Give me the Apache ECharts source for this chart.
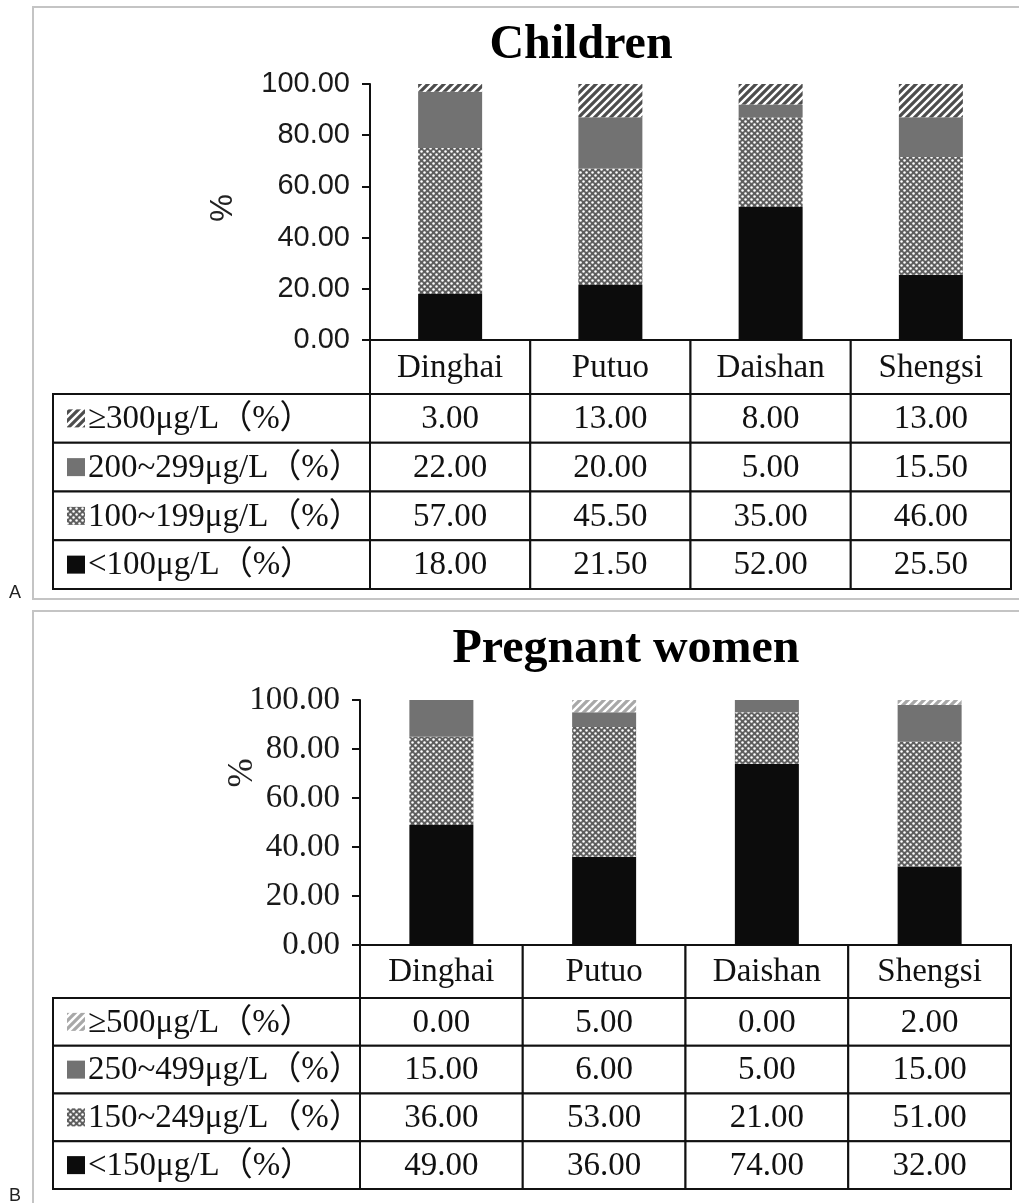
<!DOCTYPE html>
<html>
<head>
<meta charset="utf-8">
<script src="https://cdn.jsdelivr.net/npm/echarts@6/dist/echarts.min.js"></script>
<style>
  html, body { margin: 0; padding: 0; background: #fff; }
  #chart { width: 1019px; height: 1203px; }
</style>
</head>
<body>
<div id="chart"></div>
<script>
// districts shared by both panels
const districts = ['Dinghai', 'Putuo', 'Daishan', 'Shengsi']

// A: children, urinary iodine groups (top row of the table first)
const childLevels = ['≥300μg/L（%）', '200~299μg/L（%）', '100~199μg/L（%）', '<100μg/L（%）']
const childOver300 = [3, 13, 8, 13]
const child200to299 = [22, 20, 5, 15.5]
const child100to199 = [57, 45.5, 35, 46]
const childUnder100 = [18, 21.5, 52, 25.5]

// B: pregnant women
const womenLevels = ['≥500μg/L（%）', '250~499μg/L（%）', '150~249μg/L（%）', '<150μg/L（%）']
const womenOver500 = [0, 5, 0, 2]
const women250to499 = [15, 6, 5, 15]
const women150to249 = [36, 53, 21, 51]
const womenUnder150 = [49, 36, 74, 32]

const SERIF = '"Liberation Serif", "Times New Roman", "Noto Sans CJK SC", serif'
const SANS = '"Liberation Sans", Arial, sans-serif'

// --- fill patterns ---
const makeStripes = (lineColor) => {
  const s = 8
  const c = document.createElement('canvas')
  c.width = s; c.height = s
  const ctx = c.getContext('2d')
  ctx.fillStyle = '#fff'
  ctx.fillRect(0, 0, s, s)
  ctx.strokeStyle = lineColor
  ctx.lineWidth = 3.2
  ctx.beginPath()
  ctx.moveTo(0, s); ctx.lineTo(s, 0)
  ctx.moveTo(-s / 2, s / 2); ctx.lineTo(s / 2, -s / 2)
  ctx.moveTo(s / 2, s * 1.5); ctx.lineTo(s * 1.5, s / 2)
  ctx.stroke()
  return c
}

const makeDots = () => {
  const s = 6
  const c = document.createElement('canvas')
  c.width = s; c.height = s
  const ctx = c.getContext('2d')
  ctx.fillStyle = '#5e5e5e'
  ctx.fillRect(0, 0, s, s)
  ctx.fillStyle = '#fff'
  ;[[1.5, 1.5], [4.5, 4.5]].forEach(([x, y]) => {
    ctx.beginPath()
    ctx.arc(x, y, 1.25, 0, Math.PI * 2)
    ctx.fill()
  })
  return c
}

const pat = (canvas) => ({ image: canvas, repeat: 'repeat' })

const darkStripes = pat(makeStripes('#4d4d4d'))
const lightStripes = pat(makeStripes('#a8a8a8'))
const dots = pat(makeDots())
const midGray = '#727272'
const black = '#0c0c0c'

// panel layout (pixels)
const panels = [
  {
    title: 'Children', titleX: 581, titleY: 46,
    levels: childLevels,
    rows: [childOver300, child200to299, child100to199, childUnder100],
    fills: [darkStripes, midGray, dots, black],
    plotLeft: 370, plotWidth: 641, plotTop: 84, plotHeight: 256,
    headTop: 340, headHeight: 54, bodyTop: 394, bodyHeight: 195,
    legendLeft: 53,
    tickFont: { family: SANS, size: 29 }, percentAt: [223, 208]
  },
  {
    title: 'Pregnant women', titleX: 626, titleY: 650,
    levels: womenLevels,
    rows: [womenOver500, women250to499, women150to249, womenUnder150],
    fills: [lightStripes, midGray, dots, black],
    plotLeft: 360, plotWidth: 651, plotTop: 700, plotHeight: 245,
    headTop: 945, headHeight: 53, bodyTop: 998, bodyHeight: 191,
    legendLeft: 53,
    tickFont: { family: SERIF, size: 33 }, percentAt: [243, 773]
  }
]

const grid = []
const xAxis = []
const yAxis = []
const series = []
const graphic = []

const cellFont = '33px ' + SERIF

const cellRect = (api) => {
  const p = api.coord([api.value(0), api.value(1)])
  const s = api.size([1, 1])
  return { x: p[0] - s[0] / 2, y: p[1] - s[1] / 2, width: s[0], height: s[1], cx: p[0], cy: p[1] }
}

const borderRect = (r) => ({
  type: 'rect',
  shape: { x: r.x, y: r.y, width: r.width, height: r.height },
  style: { fill: '#fff', stroke: '#111', lineWidth: 2 }
})

const centerText = (text, r) => ({
  type: 'text',
  style: {
    text, x: r.cx, y: r.cy + 1, font: cellFont, fill: '#111',
    align: 'center', verticalAlign: 'middle', textAlign: 'center', textVerticalAlign: 'middle'
  }
})

panels.forEach((pn) => {
  const g0 = grid.length
  const bodyRows = pn.levels.map((_, i) => i)

  // bars
  grid.push({ left: pn.plotLeft, top: pn.plotTop, width: pn.plotWidth, height: pn.plotHeight })
  // header row
  grid.push({ left: pn.plotLeft, top: pn.headTop, width: pn.plotWidth, height: pn.headHeight })
  // value rows
  grid.push({ left: pn.plotLeft, top: pn.bodyTop, width: pn.plotWidth, height: pn.bodyHeight })
  // legend column
  grid.push({ left: pn.legendLeft, top: pn.bodyTop, width: pn.plotLeft - pn.legendLeft, height: pn.bodyHeight })

  xAxis.push({
    type: 'category', gridIndex: g0, data: districts,
    axisLine: { lineStyle: { color: '#111', width: 2 } },
    axisTick: { show: false }, axisLabel: { show: false }
  })
  yAxis.push({
    type: 'value', gridIndex: g0, min: 0, max: 100, interval: 20,
    axisLine: { show: true, lineStyle: { color: '#111', width: 2 } },
    axisTick: { show: true, length: 8, lineStyle: { color: '#111', width: 2 } },
    splitLine: { show: false },
    axisLabel: {
      formatter: (v) => v.toFixed(2), margin: 20,
      fontFamily: pn.tickFont.family, fontSize: pn.tickFont.size, color: '#1a1a1a'
    }
  })

  xAxis.push({ type: 'category', gridIndex: g0 + 1, data: districts, show: false })
  yAxis.push({ type: 'category', gridIndex: g0 + 1, data: ['head'], show: false })
  xAxis.push({ type: 'category', gridIndex: g0 + 2, data: districts, show: false })
  yAxis.push({ type: 'category', gridIndex: g0 + 2, data: bodyRows, inverse: true, show: false })
  xAxis.push({ type: 'category', gridIndex: g0 + 3, data: ['label'], show: false })
  yAxis.push({ type: 'category', gridIndex: g0 + 3, data: bodyRows, inverse: true, show: false })

  // stacked bars, bottom level first
  for (let r = pn.rows.length - 1; r >= 0; r--) {
    series.push({
      type: 'bar', name: pn.levels[r], stack: pn.title,
      xAxisIndex: g0, yAxisIndex: g0,
      barWidth: 64,
      data: pn.rows[r],
      itemStyle: { color: pn.fills[r] },
      emphasis: { disabled: true }
    })
  }

  // header cells
  series.push({
    type: 'custom', xAxisIndex: g0 + 1, yAxisIndex: g0 + 1,
    data: districts.map((_, c) => [c, 0]),
    renderItem: (params, api) => {
      const r = cellRect(api)
      return { type: 'group', children: [borderRect(r), centerText(districts[api.value(0)], r)] }
    }
  })

  // value cells
  const cells = []
  pn.rows.forEach((vals, r) => vals.forEach((v, c) => cells.push([c, r, v])))
  series.push({
    type: 'custom', xAxisIndex: g0 + 2, yAxisIndex: g0 + 2,
    data: cells,
    renderItem: (params, api) => {
      const r = cellRect(api)
      return { type: 'group', children: [borderRect(r), centerText(api.value(2).toFixed(2), r)] }
    }
  })

  // legend cells with swatches
  series.push({
    type: 'custom', xAxisIndex: g0 + 3, yAxisIndex: g0 + 3,
    data: bodyRows.map((r) => [0, r]),
    renderItem: (params, api) => {
      const r = cellRect(api)
      const row = api.value(1)
      return {
        type: 'group',
        children: [
          borderRect(r),
          {
            type: 'rect',
            shape: { x: r.x + 14, y: r.cy - 9, width: 18, height: 18 },
            style: { fill: pn.fills[row] }
          },
          {
            type: 'text',
            style: {
              text: pn.levels[row], x: r.x + 35, y: r.cy + 1, font: cellFont, fill: '#111',
              align: 'left', verticalAlign: 'middle', textAlign: 'left', textVerticalAlign: 'middle'
            }
          }
        ]
      }
    }
  })

  // title and the rotated "%" axis title
  graphic.push({
    type: 'text', x: pn.titleX, y: pn.titleY,
    style: {
      text: pn.title, font: 'bold 48px ' + SERIF, fill: '#000',
      align: 'center', verticalAlign: 'middle', textAlign: 'center', textVerticalAlign: 'middle'
    }
  }, {
    type: 'text', x: pn.percentAt[0], y: pn.percentAt[1], rotation: Math.PI / 2,
    style: {
      text: '%', font: (pn.tickFont.size + 2) + 'px ' + pn.tickFont.family, fill: '#222',
      align: 'center', verticalAlign: 'middle', textAlign: 'center', textVerticalAlign: 'middle'
    }
  })
})

// panel frames and A / B marks
graphic.push(
  { type: 'rect', shape: { x: 33, y: 7, width: 1000, height: 592 }, style: { fill: 'none', stroke: '#c4c4c4', lineWidth: 2 }, z: -1 },
  { type: 'rect', shape: { x: 33, y: 611, width: 1000, height: 600 }, style: { fill: 'none', stroke: '#c4c4c4', lineWidth: 2 }, z: -1 },
  { type: 'text', x: 9, y: 593, style: { text: 'A', font: '18px ' + SANS, fill: '#222', verticalAlign: 'middle', textVerticalAlign: 'middle' } },
  { type: 'text', x: 9, y: 1196, style: { text: 'B', font: '18px ' + SANS, fill: '#222', verticalAlign: 'middle', textVerticalAlign: 'middle' } }
)

const chart = echarts.init(document.getElementById('chart'), null, { renderer: 'canvas' })
chart.setOption({
  animation: false,
  backgroundColor: '#fff',
  grid, xAxis, yAxis, series, graphic,
  tooltip: { show: false }
})
</script>
</body>
</html>
